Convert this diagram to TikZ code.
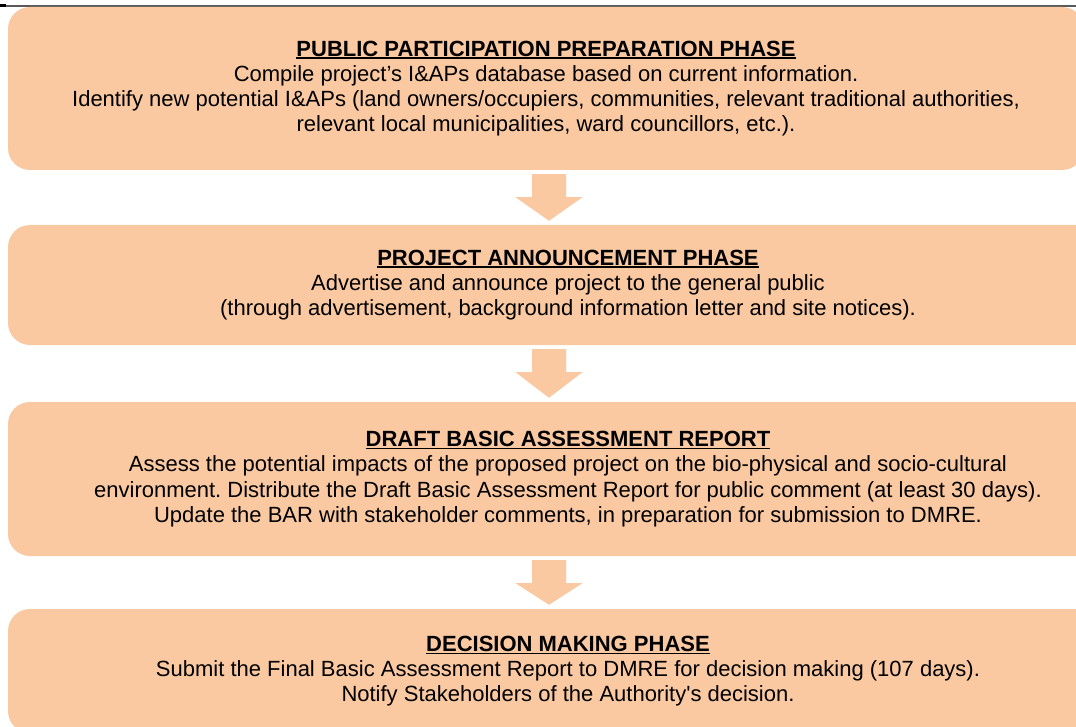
\documentclass[tikz,border=0pt]{standalone}
\usepackage{fontspec}
\setmainfont{Liberation Sans}
\usetikzlibrary{calc}
\definecolor{peach}{RGB}{250,201,162}
\frenchspacing
\newsavebox{\titlebox}
\newcommand{\phasetitle}[1]{\sbox{\titlebox}{\textbf{#1}}\rlap{\rule[-2.8pt]{\wd\titlebox}{1.5pt}}\usebox{\titlebox}}
\tikzset{
	phasebox/.style={fill=peach, rounded corners=22pt, align=center, inner sep=0pt,
		font=\fontsize{22}{25.2}\selectfont},
	blockarrow/.style={fill=peach}
}
\begin{document}
\begin{tikzpicture}[x=1pt,y=1pt]
	\useasboundingbox (0,0) rectangle (1076,-727);
	\draw[black!65, line width=1.3pt] (0,-6) -- (1076,-6);
	\draw[black, line width=3pt] (0,-5.5) -- (6,-5.5);
	% the four phases
	\node[phasebox, minimum width=1076pt, minimum height=163pt] (prep) at (546,-88.5)
		{\phasetitle{PUBLIC PARTICIPATION PREPARATION PHASE}\\
		Compile project’s I\&APs database based on current information.\\
		Identify new potential I\&APs (land owners/occupiers, communities, relevant traditional authorities,\\
		relevant local municipalities, ward councillors, etc.).};
	\node[phasebox, minimum width=1120pt, minimum height=120pt] (announce) at (568,-285)
		{\phasetitle{PROJECT ANNOUNCEMENT PHASE}\\
		Advertise and announce project to the general public\\
		(through advertisement, background information letter and site notices).};
	\node[phasebox, minimum width=1120pt, minimum height=154pt] (draft) at (568,-479)
		{\phasetitle{DRAFT BASIC ASSESSMENT REPORT}\\
		Assess the potential impacts of the proposed project on the bio-physical and socio-cultural\\
		environment. Distribute the Draft Basic Assessment Report for public comment (at least 30 days).\\
		Update the BAR with stakeholder comments, in preparation for submission to DMRE.};
	\node[phasebox, minimum width=1120pt, minimum height=124pt] (decision) at (568,-671)
		{\phasetitle{DECISION MAKING PHASE}\\
		Submit the Final Basic Assessment Report to DMRE for decision making (107 days).\\
		Notify Stakeholders of the Authority\textquotesingle s decision.};
	% arrows between phases
	\foreach \a/\b in {prep/announce, announce/draft, draft/decision}
		\fill[blockarrow] ($(\a.south -| prep.south)+(-14,-4)$) -- ($(\a.south -| prep.south)+(20,-4)$)
			-- ($(\a.south -| prep.south)+(20,-27)$) -- ($(\a.south -| prep.south)+(36.5,-27)$)
			-- ($(\b.north -| prep.south)+(3,4)$)
			-- ($(\a.south -| prep.south)+(-30.5,-27)$) -- ($(\a.south -| prep.south)+(-14,-27)$) -- cycle;
\end{tikzpicture}
\end{document}
